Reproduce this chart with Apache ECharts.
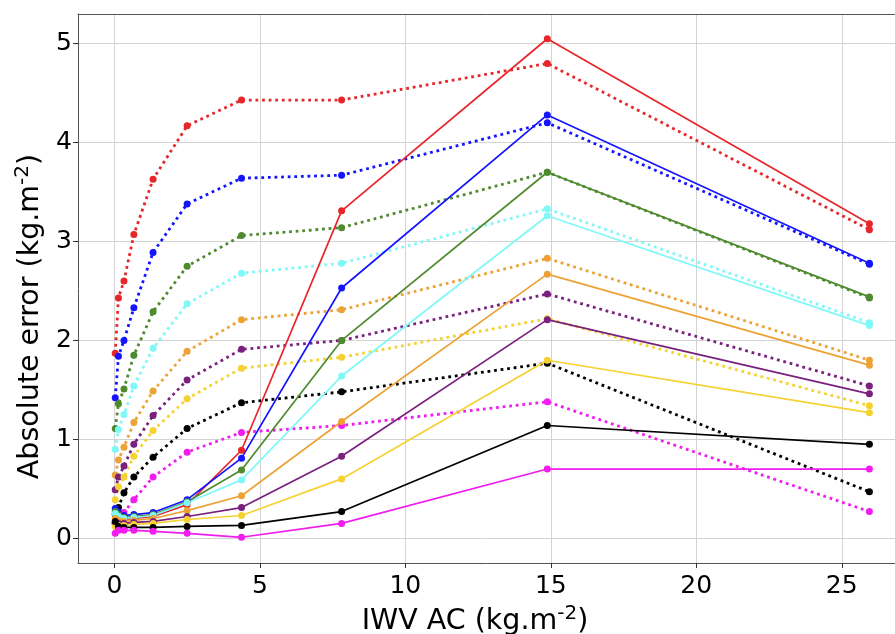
<!DOCTYPE html>
<html>
<head>
<meta charset="utf-8">
<script src="https://cdn.jsdelivr.net/npm/echarts@6/dist/echarts.min.js"></script>
<style>
  html, body { margin: 0; padding: 0; background: #fff; }
  #chart { width: 895px; height: 634px; }
</style>
</head>
<body>
<div id="chart"></div>
<script>
// IWV AC bins (kg.m-2)
const iwv = [0.03, 0.14, 0.33, 0.67, 1.33, 2.5, 4.37, 7.81, 14.88, 25.95];

// Axis tick labels
const xTicks = [0, 5, 10, 15, 20, 25];
const yTicks = [0, 1, 2, 3, 4, 5];

// Solid curves
const redSolid     = [0.16, 0.18, 0.19, 0.20, 0.22, 0.34, 0.89, 3.31, 5.05, 3.18];
const blueSolid    = [0.30, 0.26, 0.23, 0.24, 0.26, 0.39, 0.81, 2.53, 4.28, 2.78];
const greenSolid   = [0.27, 0.24, 0.21, 0.22, 0.24, 0.37, 0.69, 2.00, 3.70, 2.44];
const cyanSolid    = [0.25, 0.22, 0.20, 0.21, 0.23, 0.36, 0.59, 1.64, 3.26, 2.15];
const orangeSolid  = [0.20, 0.18, 0.17, 0.18, 0.20, 0.28, 0.43, 1.18, 2.67, 1.75];
const purpleSolid  = [0.15, 0.15, 0.15, 0.16, 0.17, 0.22, 0.31, 0.83, 2.21, 1.46];
const goldSolid    = [0.12, 0.13, 0.13, 0.14, 0.15, 0.19, 0.23, 0.60, 1.80, 1.27];
const blackSolid   = [0.17, 0.12, 0.11, 0.11, 0.11, 0.12, 0.13, 0.27, 1.14, 0.95];
const magentaSolid = [0.05, 0.08, 0.08, 0.08, 0.07, 0.05, 0.01, 0.15, 0.70, 0.70];

// Dotted curves
const redDotted     = [1.87, 2.43, 2.60, 3.07, 3.63, 4.17, 4.43, 4.43, 4.80, 3.12];
const blueDotted    = [1.42, 1.84, 2.00, 2.33, 2.89, 3.38, 3.64, 3.67, 4.20, 2.77];
const greenDotted   = [1.11, 1.36, 1.51, 1.85, 2.29, 2.75, 3.06, 3.14, 3.70, 2.43];
const cyanDotted    = [0.90, 1.10, 1.25, 1.54, 1.92, 2.37, 2.68, 2.78, 3.33, 2.18];
const orangeDotted  = [0.64, 0.79, 0.92, 1.17, 1.49, 1.89, 2.21, 2.31, 2.83, 1.80];
const purpleDotted  = [0.49, 0.62, 0.73, 0.95, 1.24, 1.60, 1.91, 2.00, 2.47, 1.54];
const goldDotted    = [0.39, 0.52, 0.62, 0.83, 1.09, 1.41, 1.72, 1.83, 2.22, 1.34];
const blackDotted   = [0.24, 0.31, 0.46, 0.62, 0.82, 1.11, 1.37, 1.48, 1.77, 0.47];
const magentaDotted = [0.15, 0.18, 0.26, 0.39, 0.62, 0.87, 1.07, 1.14, 1.38, 0.27];

const groups = [
  { name: 'red',     color: '#e8262a', solid: redSolid,     dotted: redDotted },
  { name: 'blue',    color: '#1414ff', solid: blueSolid,    dotted: blueDotted },
  { name: 'green',   color: '#4e8a2e', solid: greenSolid,   dotted: greenDotted },
  { name: 'cyan',    color: '#80f8f8', solid: cyanSolid,    dotted: cyanDotted },
  { name: 'orange',  color: '#eda236', solid: orangeSolid,  dotted: orangeDotted },
  { name: 'purple',  color: '#7a207e', solid: purpleSolid,  dotted: purpleDotted },
  { name: 'gold',    color: '#f5d232', solid: goldSolid,    dotted: goldDotted },
  { name: 'black',   color: '#000000', solid: blackSolid,   dotted: blackDotted },
  { name: 'magenta', color: '#f01cf0', solid: magentaSolid, dotted: magentaDotted }
];

const pairs = vals => iwv.map((x, i) => [x, vals[i]]);

const series = [];
groups.forEach(g => {
  series.push({
    name: g.name + ' dotted',
    type: 'line',
    data: pairs(g.dotted),
    symbol: 'circle',
    symbolSize: 7,
    itemStyle: { color: g.color },
    lineStyle: { color: g.color, width: 2.8, type: [2.8, 3.8] },
    animation: false,
    z: 2
  });
  series.push({
    name: g.name + ' solid',
    type: 'line',
    data: pairs(g.solid),
    symbol: 'circle',
    symbolSize: 7,
    itemStyle: { color: g.color },
    lineStyle: { color: g.color, width: 1.7 },
    animation: false,
    z: 3
  });
});

const font = 'DejaVu Sans';
const frame = { color: '#555', width: 1 };
const supStyle = { fontFamily: font, fontSize: 20, color: '#000', padding: [0, 0, 16, 0] };

const chart = echarts.init(document.getElementById('chart'), null, { renderer: 'canvas' });
chart.setOption({
  backgroundColor: '#fff',
  animation: false,
  // plot area runs past the right edge of the canvas, so no right frame line shows
  grid: { left: 78, top: 14, right: 0, bottom: 71, show: false, outerBoundsMode: 'none', containLabel: false },
  xAxis: [{
    type: 'value',
    min: -1.25,
    max: 26.83,
    splitNumber: 5,
    name: 'IWV AC (kg.m{sup|-2})',
    nameLocation: 'middle',
    nameGap: 36,
    nameTextStyle: {
      fontFamily: font, fontSize: 28.5, color: '#000',
      padding: [0, 23, 0, 0],
      rich: { sup: supStyle }
    },
    axisLine: { show: true, onZero: false, lineStyle: frame },
    axisTick: { show: true, length: 5, customValues: xTicks, lineStyle: { color: '#333' } },
    axisLabel: {
      customValues: xTicks,
      fontFamily: font, fontSize: 25, color: '#000', margin: 11,
      formatter: v => String(v)
    },
    splitLine: { show: true, lineStyle: { color: '#d3d3d3', width: 1 } }
  }, {
    // top frame line
    type: 'value',
    position: 'top',
    min: -1.25,
    max: 26.83,
    axisLine: { show: true, onZero: false, lineStyle: frame },
    axisTick: { show: false },
    axisLabel: { show: false },
    splitLine: { show: false }
  }],
  yAxis: {
    type: 'value',
    min: -0.25,
    max: 5.3,
    splitNumber: 5,
    name: 'Absolute error (kg.m{sup|-2})',
    nameLocation: 'middle',
    nameGap: 22,
    nameRotate: 90,
    nameTextStyle: {
      fontFamily: font, fontSize: 28.5, color: '#000',
      padding: [0, 56, 0, 0],
      rich: { sup: supStyle }
    },
    axisLine: { show: true, onZero: false, lineStyle: frame },
    axisTick: { show: true, length: 5, customValues: yTicks, lineStyle: { color: '#333' } },
    axisLabel: {
      customValues: yTicks,
      fontFamily: font, fontSize: 25, color: '#000', margin: 6,
      formatter: v => String(v)
    },
    splitLine: { show: true, lineStyle: { color: '#d3d3d3', width: 1 } }
  },
  series: series
});
</script>
</body>
</html>
